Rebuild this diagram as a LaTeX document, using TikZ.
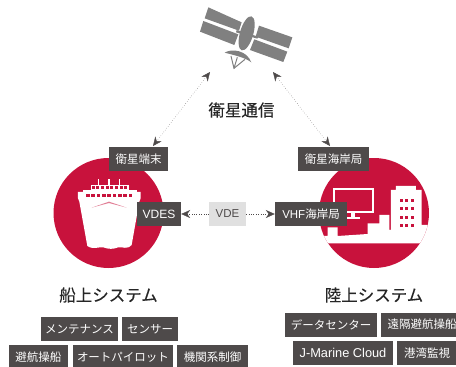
\documentclass[tikz,border=0pt]{standalone}
\usepackage{fontspec}
\setmainfont{Noto Sans CJK JP}
\newfontfamily\latinfont{Liberation Sans}
\newfontfamily\headfont[FakeBold=0.25]{Noto Sans CJK JP}
\usetikzlibrary{arrows.meta}
\definecolor{crimson}{HTML}{C8123C}
\definecolor{tagdark}{HTML}{4E4A4A}
\definecolor{satgray}{HTML}{808080}
\tikzset{
    tag/.style={fill=tagdark,text=white,minimum height=24pt,inner sep=0pt,font=\fontsize{11.5}{12}\selectfont},
    midtag/.style={fill=black!12,text=tagdark,minimum height=24pt,inner sep=0pt,font=\latinfont\fontsize{11.5}{12}\selectfont},
    heading/.style={text=black!85,inner sep=0pt,font=\headfont\fontsize{16.5}{18}\selectfont},
    link/.style={dotted,thin,tagdark,{Stealth[length=9pt,width=8pt]}-{Stealth[length=9pt,width=8pt]}},
    linkend/.style={dotted,thin,tagdark,-{Stealth[length=9pt,width=8pt]}},
}
\begin{document}
\begin{tikzpicture}[x=1pt,y=-1pt]
    \useasboundingbox (0,0) rectangle (456,367);
    \clip (0,0) rectangle (456,367);

    % satellite
    \begin{scope}[shift={(130,0)},x=0.3333pt,y=-0.3333pt]
        \fill[satgray] (235,22) -- (335,67) -- (327,92) -- (224,55) -- cycle;
        \fill[satgray] (220,63) -- (325,103) -- (313,135) -- (210,95) -- cycle;
        \fill[satgray] (387,77) -- (487,112) -- (476,145) -- (377,110) -- cycle;
        \fill[satgray] (373,118) -- (472,155) -- (460,186) -- (360,150) -- cycle;
        \fill[satgray] (320,90) -- (385,110) -- (382,116) -- (318,97) -- cycle;
        \fill[satgray,rotate around={-16:(350,100)}] (350,100) ellipse (20 and 53);
        \fill[satgray] (284,158) .. controls (305,145) and (350,150) .. (364,187) .. controls (345,172) and (310,165) .. (284,158);
        \draw[satgray,line width=1pt] (303,168) -- (312,205) -- (345,178);
        \draw[satgray,line width=1pt] (322,172) -- (312,205);
    \end{scope}

    % left circle with ship
    \fill[crimson] (108.5,213) circle (55);
    \begin{scope}[shift={(0,130)},x=0.3333pt,y=-0.3333pt]
        \fill[white] (272,165) rectangle (388,180);
        \foreach \mx in {295,327,358} {
            \fill[white] (\mx-2,147) rectangle (\mx+2,165);
        }
        \fill[white] (250,180) rectangle (410,205);
        \fill[white] (234,186) -- (422,186) -- (422,205) -- (418,215) -- (395,345)
            .. controls (380,360) and (370,350) .. (355,352) .. controls (340,358) and (325,358) .. (310,352)
            .. controls (295,350) and (280,360) .. (262,348) -- (238,215) -- (234,205) -- cycle;
        \foreach \wx in {272,286,300,314,328,342,356,370} {
            \fill[crimson] (\wx+3,168) rectangle (\wx+12,176);
        }
        \foreach \wx in {258,274,290,306,322,338,354,370,386} {
            \fill[crimson] (\wx,192) rectangle (\wx+11,200);
        }
        \fill[crimson!55!white] (275,233) -- (327,215) -- (380,233) -- (327,219) -- cycle;
    \end{scope}

    % right circle with monitor and buildings
    \fill[crimson] (374,213) circle (55);
    \begin{scope}
        \clip (374,213) circle (55);
        \begin{scope}[shift={(226,130)},x=0.3333pt,y=-0.3333pt]
            \draw[white,line width=2pt] (323,178) rectangle (441,247);
            \fill[white] (375,250) rectangle (388,262);
            \fill[white] (362,261) rectangle (402,267);
            \fill[white] (270,340) -- (270,318) -- (305,318) -- (305,292) -- (335,292) -- (335,318) -- (425,312) -- (425,280) -- (460,280)
                -- (460,255) -- (490,255) -- (490,300) -- (495,300) -- (495,180) -- (510,180) -- (510,168) -- (570,168) -- (570,180) -- (587,180)
                -- (587,285) -- (650,285) -- (650,340) -- cycle;
            \foreach \wy in {208,232,257,281} {
                \foreach \wx in {521,538,555} {
                    \fill[crimson] (\wx,\wy) rectangle (\wx+9,\wy+9);
                }
            }
        \end{scope}
    \end{scope}

    % boxes
    \node[tag,minimum width=59pt] (satterm) at (138.5,159) {衛星端末};
    \node[tag,minimum width=71pt] (satcoast) at (333.5,159) {衛星海岸局};
    \node[tag,minimum width=44pt,font=\latinfont\fontsize{12}{12}\selectfont] (vdes) at (159,214) {VDES};
    \node[midtag,minimum width=37pt] (vde) at (227.5,214) {VDE};
    \node[tag,minimum width=72pt] (vhf) at (311,214) {{\latinfont VHF}海岸局};

    % satellite links
    \coordinate (satleft) at (210,72);
    \coordinate (satright) at (273,72);
    \coordinate (termtip) at (153,146);
    \coordinate (coasttip) at (330,146);
    \draw[link] (satleft) -- (termtip);
    \draw[link] (satright) -- (coasttip);
    \draw[linkend] (vde) -- (vdes);
    \draw[linkend] (vde) -- (vhf);

    \node[heading] (sattitle) at (241.5,110) {衛星通信};
    \node[heading] (shiptitle) at (108.5,295) {船上システム};
    \node[heading] (landtitle) at (374,295) {陸上システム};

    % ship side list
    \node[tag,minimum width=77pt] (maint) at (79.5,329) {メンテナンス};
    \node[tag,minimum width=56pt] (sensor) at (150,329) {センサー};
    \node[tag,minimum width=59pt] (avoid) at (38.5,357) {避航操船};
    \node[tag,minimum width=100pt] (autopilot) at (123,357) {オートパイロット};
    \node[tag,minimum width=71pt] (engine) at (212.5,357) {機関系制御};

    % land side list
    \node[tag,minimum width=92pt] (datacenter) at (331,324.5) {データセンター};
    \node[tag,minimum width=82pt] (remote) at (422,324.5) {遠隔避航操船};
    \node[tag,minimum width=100pt,font=\latinfont\fontsize{12.8}{13}\selectfont] (jmarine) at (343,353) {J-Marine Cloud};
    \node[tag,minimum width=60pt] (harbor) at (427,353) {港湾監視};
\end{tikzpicture}
\end{document}
